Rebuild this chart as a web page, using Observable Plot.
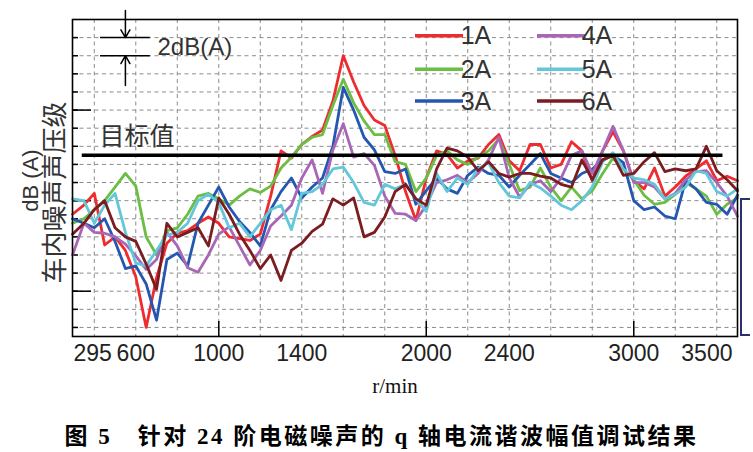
<!DOCTYPE html>
<html><head><meta charset="utf-8">
<script src="https://cdn.jsdelivr.net/npm/d3@7"></script>
<script src="https://cdn.jsdelivr.net/npm/@observablehq/plot@0.6"></script>
<style>
body{margin:0;background:#fff;}
#wrap{position:relative;width:753px;height:452px;overflow:hidden;background:#fff;}
#caption{position:absolute;left:5px;top:424px;width:753px;text-align:center;font-weight:bold;font-size:23px;line-height:26px;font-family:"Liberation Serif","Noto Sans CJK SC",serif;letter-spacing:2.5px;color:#000;white-space:pre;}
#bracket{position:absolute;left:740px;top:198px;width:8px;height:134px;border:2.5px solid #2b2f6e;border-right:none;}
</style></head>
<body><div id="wrap"><div id="chart"></div><div id="caption">图 5　针对 24 阶电磁噪声的 q 轴电流谐波幅值调试结果</div><div id="bracket"></div></div>
<script>
// ---- data ----
const rpm = [295,350,400,450,500,550,600,650,700,750,800,850,900,950,1000,1050,1100,1150,1200,1250,1300,1350,1400,1450,1500,1550,1600,1650,1700,1750,1800,1850,1900,1950,2000,2050,2100,2150,2200,2250,2300,2350,2400,2450,2500,2550,2600,2650,2700,2750,2800,2850,2900,2950,3000,3050,3100,3150,3200,3250,3300,3350,3400,3450,3500];
const s1A = [13.5,14.5,15.8,10.1,11.0,9.5,6.6,1.0,6.5,10.3,11.4,11.7,12.5,13.2,12.5,11.0,10.8,10.6,11.3,15.5,20.5,19.7,21.2,22.1,22.8,26.0,31.0,28.1,25.5,23.9,23.3,20.0,16.0,12.8,17.5,20.5,20.1,18.6,19.4,19.7,21.2,22.3,19.4,18.3,21.2,21.2,18.6,19.0,21.5,20.5,17.2,20.5,22.6,20.5,17.2,16.3,18.6,15.5,16.5,17.7,18.5,19.4,17.2,17.7,17.2];
const s2A = [12.5,13.0,14.0,15.0,16.5,18.0,16.6,11.0,9.0,11.7,12.0,13.5,15.5,15.8,15.2,14.5,15.5,16.3,15.9,16.6,18.6,19.8,21.2,22.0,22.3,25.5,28.4,25.8,23.8,22.3,22.3,19.3,19.0,16.0,17.5,20.0,20.5,19.5,19.0,19.8,20.5,21.8,19.0,16.1,16.5,18.6,16.5,15.0,16.5,15.2,16.1,18.0,19.7,18.5,17.3,15.6,14.6,14.8,15.7,17.0,16.3,15.5,13.5,14.6,15.3];
const s3A = [13.0,12.5,12.0,13.0,10.5,7.5,7.8,5.8,1.8,8.5,9.2,7.8,12.5,14.5,16.5,14.3,12.7,11.5,10.0,14.0,16.0,17.5,15.3,16.5,17.5,21.0,27.5,25.0,22.0,20.6,18.2,18.0,18.5,14.6,16.1,17.5,16.3,15.8,17.8,18.7,18.0,17.8,16.5,17.8,19.0,20.2,18.0,17.5,17.0,18.0,18.5,19.5,20.0,19.2,15.0,14.0,14.3,13.3,13.0,17.2,16.3,14.8,14.6,13.5,15.6];
const s4A = [9.0,12.5,11.5,11.4,11.0,10.2,8.9,7.4,8.5,11.5,10.0,7.6,7.1,9.0,11.3,12.1,10.0,7.9,9.5,12.2,13.3,14.5,17.5,19.5,15.8,20.6,23.5,19.8,20.2,18.9,15.5,13.6,13.5,12.8,14.5,17.0,17.3,17.8,17.0,18.0,19.5,22.0,17.5,15.4,16.8,17.2,16.0,17.5,20.0,20.5,18.0,20.5,23.2,20.5,17.0,17.0,16.5,15.2,15.8,17.3,18.2,18.3,17.0,15.5,13.3];
const s5A = [15.2,15.0,12.5,14.5,15.8,11.5,8.1,7.8,9.5,11.2,11.5,12.5,15.0,15.7,14.8,12.0,12.5,11.0,12.5,14.0,14.5,11.8,15.8,16.0,16.8,18.5,18.7,17.0,14.8,14.5,16.8,16.3,16.8,15.2,13.8,18.0,16.0,17.5,16.8,18.5,19.2,17.0,15.5,15.3,17.0,16.4,15.5,14.5,14.0,15.0,16.5,19.3,20.3,18.5,17.5,17.3,16.8,15.2,15.7,16.5,18.3,18.0,16.0,15.5,16.3];
const s6A = [11.3,12.5,14.0,15.0,12.0,11.0,10.5,8.0,5.2,12.5,11.0,11.5,12.0,10.0,15.3,13.5,11.3,9.5,7.5,9.0,6.2,9.5,10.3,11.6,12.4,15.2,14.5,15.3,11.0,11.5,13.2,16.0,16.8,15.2,14.5,18.5,20.8,20.5,19.8,18.3,19.3,18.0,17.6,18.0,18.0,17.7,17.5,16.8,16.5,19.5,17.3,19.5,20.0,17.8,18.0,19.3,20.3,18.2,18.5,18.3,18.5,21.0,18.3,17.3,16.1];
const seriesNames = ["1A","2A","3A","4A","5A","6A"];
const seriesColors = ["#ee2b2e","#6bbd43","#2657b0","#a866b6","#62c8d9","#7a1c20"];
const xTicks = [295,600,1000,1400,2000,2400,3000,3500];
const xGrid = [400,600,800,1000,1200,1400,1600,1800,2000,2200,2400,2600,2800,3000,3200,3400];
const xMajor = [1000,2000,3000];
const yGrid = [1,3,5,7,9,11,13,15,17,19,21,23,25,27,29,31,33];
const yMajor = [5,15,25];
const targetDb = 20;
const targetRpm = [342, 3430];
const scaleBarDb = [31, 33];
const scaleBarRpm = [430, 670];
const scaleArrows = [{x1:550,y1:36,x2:550,y2:33},{x1:550,y1:27.7,x2:550,y2:31}];

const allSeries = [s1A,s2A,s3A,s4A,s5A,s6A];
const data = seriesNames.flatMap((n,i)=>rpm.map((r,j)=>({rpm:r, db:allSeries[i][j], series:n})));

const lineMarks = seriesNames.map((n,i)=>Plot.line(data.filter(d=>d.series===n), {x:"rpm", y:"db", stroke: seriesColors[i], strokeWidth:2.8, strokeLinejoin:"round"}));

const plot = Plot.plot({
  width:753, height:405,
  marginLeft:72, marginRight:16, marginTop:19, marginBottom:69,
  style:{fontFamily:"'Liberation Sans','Noto Sans CJK SC',sans-serif", fontSize:"12px", background:"white", overflow:"visible"},
  x:{domain:[295,3500], axis:null},
  y:{domain:[0,35], axis:null},
  marks:[
    Plot.gridX(xGrid, {stroke:"#8c8c8c", strokeOpacity:1, strokeDasharray:"4,3.5", strokeWidth:1}),
    Plot.gridY(yGrid, {stroke:"#8c8c8c", strokeOpacity:1, strokeDasharray:"4,3.5", strokeWidth:1}),
    Plot.axisY({ticks:yGrid, anchor:"right", frameAnchor:"left", tickSize:5, tickFormat:()=>"", label:null, strokeWidth:1.5}),
    Plot.axisY({ticks:yMajor, anchor:"right", frameAnchor:"left", tickSize:18, tickFormat:()=>"", label:null, strokeWidth:1.5}),
    Plot.axisX({ticks:xMajor, anchor:"top", frameAnchor:"bottom", tickSize:16, tickFormat:()=>"", label:null, strokeWidth:1.5}),
    ...lineMarks,
    Plot.ruleY([targetDb], {x1:targetRpm[0], x2:targetRpm[1], stroke:"black", strokeWidth:3.5}),
    Plot.ruleY(scaleBarDb, {x1:scaleBarRpm[0], x2:scaleBarRpm[1], stroke:"black", strokeWidth:1.5}),
    Plot.arrow(scaleArrows, {x1:"x1", y1:"y1", x2:"x2", y2:"y2", stroke:"black", strokeWidth:1.5, headLength:9}),
    Plot.frame({stroke:"black", strokeWidth:1.6}),
    Plot.text(xTicks.slice(1,-1), {x:d=>d, frameAnchor:"bottom", lineAnchor:"middle", dy:17, fontSize:23, fill:"#222", text:d=>String(d)}),
    Plot.text(xTicks.slice(0,1), {x:d=>d, frameAnchor:"bottom", lineAnchor:"middle", dy:17, dx:1, textAnchor:"start", fontSize:23, fill:"#222", text:d=>String(d)}),
    Plot.text(xTicks.slice(-1), {x:d=>d, frameAnchor:"bottom", lineAnchor:"middle", dy:17, dx:-5, textAnchor:"end", fontSize:23, fill:"#222", text:d=>String(d)}),
    Plot.text(["r/min"], {frameAnchor:"bottom", lineAnchor:"middle", dx:-10, dy:50, fontSize:21, fontFamily:"'Liberation Serif',serif", fill:"#111"}),
    Plot.text(["车内噪声声压级"], {frameAnchor:"left", textAnchor:"middle", lineAnchor:"middle", rotate:-90, dx:-17, dy:14.5, fontSize:26, fontFamily:"'Noto Sans CJK SC',sans-serif", fill:"#333"}),
    Plot.text(["dB (A)"], {frameAnchor:"left", textAnchor:"middle", lineAnchor:"middle", rotate:-90, dx:-42, dy:2.5, fontSize:22, fill:"#333"}),
    Plot.text(["目标值"], {frameAnchor:"top-left", textAnchor:"start", lineAnchor:"middle", dx:27, dy:117, fontSize:25, fontFamily:"'Noto Sans CJK SC',sans-serif", fill:"#333"}),
    Plot.text(["2dB(A)"], {frameAnchor:"top-left", textAnchor:"start", lineAnchor:"middle", dx:85, dy:28, fontSize:24, fill:"#333"})
  ]
});
document.getElementById("chart").appendChild(plot);

// legend overlay (inside the plot frame)
const svg = d3.select(plot);
const lg = svg.append("g");
const rows = [35.7, 69.3, 101];
seriesNames.forEach((n,i)=>{
  const col = Math.floor(i/3), row = i%3;
  const lx = col===0 ? 415 : 537, tx = col===0 ? 476 : 597;
  lg.append("line").attr("x1",lx).attr("x2",lx+48).attr("y1",rows[row]).attr("y2",rows[row]).attr("stroke",seriesColors[i]).attr("stroke-width",3.5);
  lg.append("text").attr("x",tx).attr("y",rows[row]).attr("dy","0.35em").attr("font-size",25).attr("fill","#333").attr("font-family","'Liberation Sans',sans-serif").text(n);
});
</script>
</body></html>
